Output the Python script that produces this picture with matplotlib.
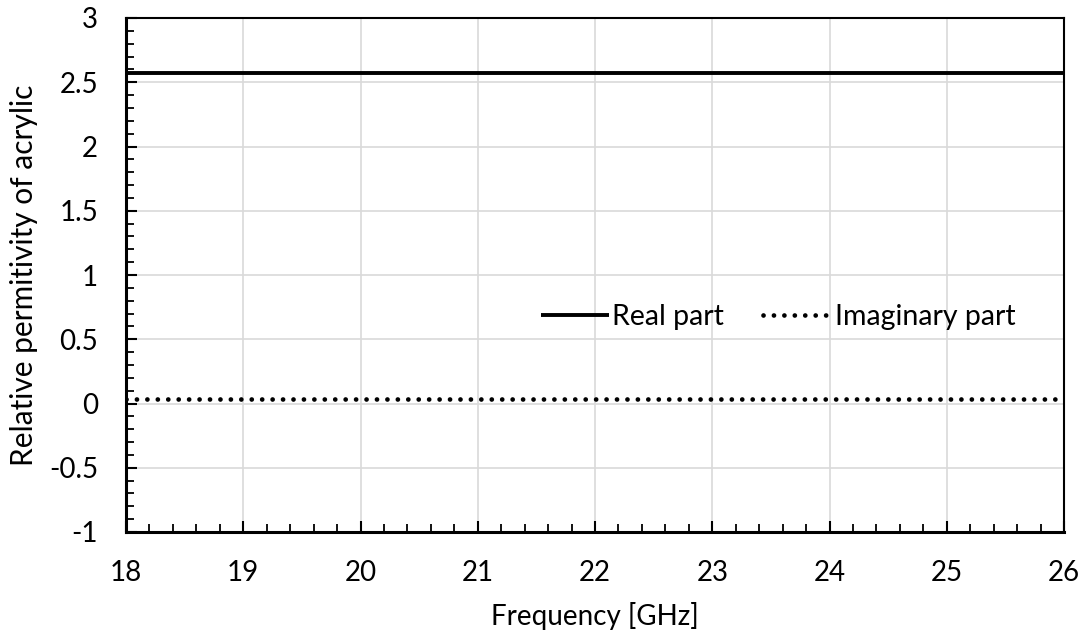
import matplotlib
matplotlib.use("Agg")
import matplotlib.pyplot as plt
from matplotlib.ticker import MultipleLocator

freq = [18, 19, 20, 21, 22, 23, 24, 25, 26]
real_part = [2.575, 2.575, 2.575, 2.575, 2.575, 2.575, 2.575, 2.575, 2.575]
imag_part = [0.035, 0.035, 0.035, 0.035, 0.035, 0.035, 0.035, 0.035, 0.035]

plt.rcParams['font.family'] = ['Lato', 'DejaVu Sans']
FS = 20

fig = plt.figure(figsize=(10.89, 6.41), dpi=100)
ax = fig.add_axes([126/1089, 1-532/641, (1064-126)/1089, (532-18)/641])

ax.plot(freq, real_part, color='black', lw=2.8, solid_capstyle='butt', label='Real part')
ax.plot(freq, imag_part, color='black', lw=3.4, linestyle=(0, (0.01, 2.2)),
        dash_capstyle='round', label='Imaginary part')

ax.set_xlim(18, 26)
ax.set_ylim(-1, 3)
ax.xaxis.set_major_locator(MultipleLocator(1))
ax.xaxis.set_minor_locator(MultipleLocator(0.2))
ax.yaxis.set_minor_locator(MultipleLocator(0.1))
ax.set_yticks([-1, -0.5, 0, 0.5, 1, 1.5, 2, 2.5, 3])
ax.set_yticklabels(['-1', '-0.5', '0', '0.5', '1', '1.5', '2', '2.5', '3'])

ax.grid(True, which='major', color='#d9d9d9', lw=1.2)
ax.set_axisbelow(True)
ax.tick_params(which='both', direction='in', color='black', labelsize=FS)
ax.tick_params(which='major', length=8, width=1.5)
ax.tick_params(which='minor', length=6, width=1.3)
ax.tick_params(axis='x', which='major', pad=20)
ax.tick_params(axis='y', which='major', pad=20)
ax.tick_params(axis='y', which='both', right=False)
ax.tick_params(axis='x', which='both', top=False)

for s in ['left', 'bottom']:
    ax.spines[s].set_linewidth(2.2)
for s in ['top', 'right']:
    ax.spines[s].set_linewidth(1.5)

ax.set_xlabel('Frequency [GHz]', fontsize=FS, labelpad=12)
ax.set_ylabel('Relative permitivity of acrylic', fontsize=21.5, labelpad=8)

leg = ax.legend(loc='center', bbox_to_anchor=(0.695, 0.418), ncol=2, frameon=False,
                fontsize=FS, handlelength=2.4, handletextpad=0.1, columnspacing=1.4,
                prop={'size': 20.5})

fig.savefig('out.png', dpi=100)
